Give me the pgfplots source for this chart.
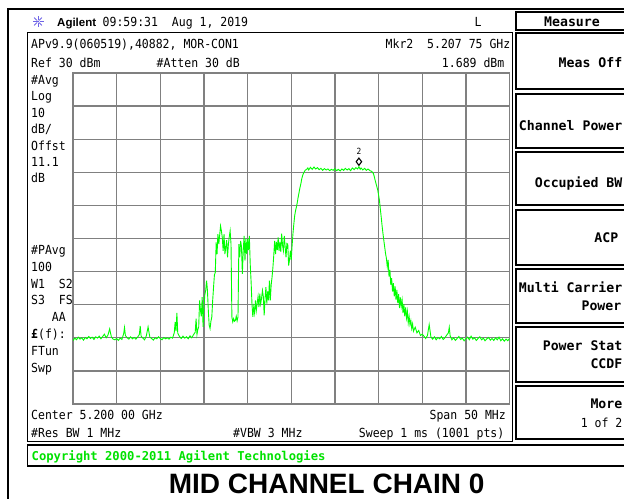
\documentclass[border=0pt]{standalone}
\usepackage{pgfplots}
\pgfplotsset{compat=1.18}
\usepackage{pgfplotstable}
\usepackage{fontspec}
\newfontfamily\scr[FakeStretch=0.92]{DejaVu Sans Mono}
\newfontfamily\key{DejaVu Sans Mono}
\newfontfamily\arial{Liberation Sans}
\definecolor{trace}{RGB}{0,255,0}
\definecolor{copyg}{RGB}{0,225,0}
\definecolor{gridg}{RGB}{128,128,128}
\definecolor{logo}{RGB}{110,100,230}
\newcommand{\scf}{\scr\fontsize{12.5bp}{14bp}\selectfont}
\newcommand{\kf}{\key\bfseries\fontsize{13.2bp}{15bp}\selectfont}

\pgfplotstableread{
f p
5175.0 -50.9
5175.2 -50.1
5175.4 -50.6
5175.6 -49.8
5175.8 -50.4
5176.0 -50.0
5176.2 -50.7
5176.4 -49.9
5176.6 -50.3
5176.8 -49.6
5177.0 -50.2
5177.2 -49.8
5177.4 -50.5
5177.6 -49.7
5177.8 -50.1
5178.0 -49.5
5178.2 -50.3
5178.4 -49.6
5178.6 -48.9
5178.8 -50.0
5179.0 -49.2
5179.2 -47.3
5179.4 -49.8
5179.6 -50.4
5179.8 -50.6
5180.0 -50.2
5180.2 -50.8
5180.4 -50.1
5180.6 -50.5
5180.8 -48.8
5180.9 -46.9
5181.0 -49.3
5181.2 -50.0
5181.4 -50.4
5181.6 -49.7
5181.8 -50.3
5182.0 -49.9
5182.2 -50.4
5182.4 -49.8
5182.6 -49.0
5182.7 -46.4
5182.8 -49.5
5183.0 -50.1
5183.2 -50.6
5183.4 -49.4
5183.6 -46.7
5183.8 -49.8
5184.0 -50.2
5184.2 -50.7
5184.4 -50.0
5184.6 -50.3
5184.8 -49.7
5185.0 -50.2
5185.2 -50.6
5185.4 -49.9
5185.6 -50.3
5185.8 -50.0
5186.0 -50.4
5186.2 -49.8
5186.4 -50.1
5186.6 -48.5
5186.7 -45.2
5186.8 -48.0
5186.9 -42.5
5187.0 -48.6
5187.2 -49.6
5187.4 -50.2
5187.6 -49.5
5187.8 -50.1
5188.0 -49.7
5188.2 -50.3
5188.4 -49.4
5188.6 -50.0
5188.8 -49.1
5189.0 -48.3
5189.1 -44.2
5189.2 -49.0
5189.3 -47.5
5189.4 -46.7
5189.5 -38.7
5189.6 -41.7
5189.7 -43.5
5189.8 -37.7
5189.9 -46.7
5190.0 -40.7
5190.1 -37.0
5190.2 -35.7
5190.3 -32.7
5190.4 -35.7
5190.5 -41.7
5190.6 -46.2
5190.7 -47.2
5190.8 -45.0
5190.9 -43.7
5191.0 -38.7
5191.1 -34.7
5191.2 -31.0
5191.3 -30.2
5191.4 -21.2
5191.5 -24.7
5191.6 -18.7
5191.7 -21.7
5191.8 -19.0
5191.9 -16.2
5192.0 -17.7
5192.1 -19.7
5192.2 -23.7
5192.3 -18.7
5192.4 -24.7
5192.5 -22.7
5192.6 -20.5
5192.7 -25.7
5192.8 -21.7
5192.9 -19.5
5193.0 -17.7
5193.1 -21.7
5193.2 -43.7
5193.3 -45.2
5193.4 -44.2
5193.5 -45.0
5193.6 -44.7
5193.7 -43.5
5193.8 -44.9
5193.9 -43.7
5194.0 -21.7
5194.1 -25.7
5194.2 -20.7
5194.3 -22.5
5194.4 -30.7
5194.5 -23.7
5194.6 -19.2
5194.7 -26.7
5194.8 -20.2
5194.9 -24.7
5195.0 -20.2
5195.1 -23.5
5195.2 -19.2
5195.3 -27.7
5195.4 -33.0
5195.5 -39.7
5195.6 -43.7
5195.7 -40.7
5195.8 -42.5
5195.9 -38.7
5196.0 -41.7
5196.1 -39.5
5196.2 -37.5
5196.3 -40.7
5196.4 -36.7
5196.5 -39.7
5196.6 -38.0
5196.7 -35.7
5196.8 -37.5
5196.9 -43.2
5197.0 -38.0
5197.1 -34.7
5197.2 -39.7
5197.3 -36.0
5197.4 -38.7
5197.5 -32.7
5197.6 -38.7
5197.7 -34.0
5197.8 -31.7
5197.9 -28.7
5198.0 -25.0
5198.1 -20.7
5198.2 -24.7
5198.3 -21.0
5198.4 -23.5
5198.5 -19.7
5198.6 -23.7
5198.7 -21.0
5198.8 -24.0
5198.9 -18.5
5199.0 -22.0
5199.1 -23.7
5199.2 -19.2
5199.3 -22.5
5199.4 -25.7
5199.5 -21.5
5199.6 -21.7
5199.7 -28.2
5199.8 -26.5
5199.9 -23.7
5200.0 -26.5
5200.1 -22.0
5200.2 -18.4
5200.3 -15.5
5200.4 -13.0
5200.5 -11.5
5200.6 -10.4
5200.7 -9.0
5200.8 -7.4
5200.9 -6.0
5201.0 -4.6
5201.1 -3.5
5201.2 -2.0
5201.3 -1.0
5201.4 -0.3
5201.5 0.2
5201.6 0.6
5201.7 0.8
5201.8 1.0
5201.9 1.3
5202.0 0.7
5202.2 1.5
5202.4 0.9
5202.6 1.6
5202.8 1.0
5203.0 1.4
5203.2 0.8
5203.4 1.2
5203.6 0.6
5203.8 1.1
5204.0 0.7
5204.2 1.0
5204.4 0.5
5204.6 0.9
5204.8 0.6
5205.0 1.1
5205.2 0.5
5205.4 0.9
5205.6 0.4
5205.8 1.0
5206.0 0.6
5206.2 1.2
5206.4 0.7
5206.6 1.1
5206.8 0.5
5207.0 1.3
5207.2 0.8
5207.4 1.4
5207.6 1.0
5207.75 1.689
5207.9 0.9
5208.0 1.3
5208.2 0.7
5208.4 1.2
5208.6 0.6
5208.8 1.0
5209.0 0.5
5209.2 0.3
5209.4 -0.3
5209.5 -1.2
5209.6 -2.3
5209.7 -3.3
5209.8 -4.3
5209.9 -5.3
5210.0 -6.8
5210.1 -8.4
5210.2 -11.0
5210.3 -13.4
5210.4 -16.0
5210.5 -18.4
5210.6 -20.5
5210.7 -22.5
5210.8 -24.5
5210.9 -26.0
5211.0 -28.5
5211.1 -26.5
5211.2 -31.5
5211.3 -29.5
5211.4 -34.0
5211.5 -32.0
5211.6 -36.0
5211.7 -33.5
5211.8 -37.5
5211.9 -34.5
5212.0 -38.5
5212.1 -35.5
5212.2 -39.5
5212.3 -36.8
5212.4 -41.0
5212.5 -37.8
5212.6 -40.5
5212.7 -38.6
5212.8 -42.5
5212.9 -39.8
5213.0 -43.5
5213.1 -40.8
5213.2 -44.0
5213.3 -42.0
5213.4 -45.5
5213.5 -43.5
5213.6 -46.0
5213.7 -44.8
5213.8 -47.2
5213.9 -45.8
5214.0 -48.0
5214.2 -46.8
5214.4 -48.5
5214.6 -47.8
5214.8 -49.3
5215.0 -48.9
5215.2 -49.5
5215.4 -50.2
5215.6 -49.3
5215.8 -46.0
5216.0 -49.8
5216.2 -50.4
5216.4 -49.7
5216.6 -50.6
5216.8 -49.9
5217.0 -50.3
5217.2 -49.6
5217.4 -50.5
5217.6 -50.0
5217.8 -49.2
5218.0 -48.5
5218.1 -46.8
5218.2 -49.4
5218.4 -50.6
5218.6 -50.0
5218.8 -50.8
5219.0 -50.2
5219.2 -49.6
5219.4 -50.5
5219.6 -50.1
5219.8 -50.9
5220.0 -50.3
5220.2 -49.8
5220.4 -50.6
5220.6 -49.5
5220.8 -50.4
5221.0 -50.0
5221.2 -50.8
5221.4 -50.2
5221.6 -49.7
5221.8 -50.6
5222.0 -50.1
5222.2 -50.9
5222.4 -50.3
5222.6 -49.9
5222.8 -50.7
5223.0 -50.2
5223.2 -50.8
5223.4 -50.0
5223.6 -50.6
5223.8 -49.8
5224.0 -50.9
5224.2 -50.3
5224.4 -51.0
5224.6 -50.4
5224.8 -50.9
5225.0 -50.2
}\trace

\begin{document}
\begin{tikzpicture}
\useasboundingbox (0,0) rectangle (624bp,-499bp);
\begin{axis}[
  at={(73bp,-404bp)}, anchor=south west,
  width=436.5bp, height=331bp, scale only axis,
  xmin=5175, xmax=5225, ymin=-70, ymax=30,
  xtick={5175,5180,...,5225}, ytick={-70,-60,...,30},
  xticklabels={}, yticklabels={},
  tick style={draw=none},
  grid=major,
  major grid style={draw=gridg, line width=1.3bp},
  axis line style={draw=gridg, line width=1.5bp},
]
\addplot[trace, line width=0.9bp, mark=none] table[x=f, y=p] {\trace};
\addplot[only marks, mark=diamond, mark size=3.6bp, black,
  mark options={line width=1.1bp, fill=white, yshift=5bp}] coordinates {(5207.75,1.689)};
\node[font=\scr\fontsize{8.5bp}{9bp}\selectfont, inner sep=0pt] at (axis cs:5207.75,1.689) [yshift=15.5bp] {2};
\end{axis}

\begin{scope}[x=1bp, y=-1bp]
% outer frame
\draw[black, line width=2bp] (8.2,499) -- (8.2,9.2) -- (630,9.2);
% logo
\foreach \a in {0,45,...,315} {
  \draw[logo, line width=0.8bp] (38,21.5) ++(\a:1.5) -- ++(\a:4);
}
\fill[logo] (38,21.5) circle (1.1);
\node[anchor=base west, inner sep=0pt, font=\arial\bfseries\fontsize{11.5bp}{13bp}\selectfont] at (57,26) {Agilent};
\node[anchor=base west, inner sep=0pt, font=\scf] at (102.5,26) {09:59:31\ \ Aug 1, 2019};
\node[anchor=base west, inner sep=0pt, font=\scf] at (474.5,26) {L};
% main box
\draw[black, line width=1.5bp] (27.3,32.7) rectangle (512.7,441.5);
\node[anchor=base west, inner sep=0pt, font=\scf] at (31,48) {APv9.9(060519),40882, MOR-CON1};
\node[anchor=base east, inner sep=0pt, font=\scf] at (510.5,48) {Mkr2\ \ 5.207 75 GHz};
\node[anchor=base west, inner sep=0pt, font=\scf] at (31,67) {Ref 30 dBm};
\node[anchor=base west, inner sep=0pt, font=\scf] at (156.5,67) {\#Atten 30 dB};
\node[anchor=base east, inner sep=0pt, font=\scf] at (504.5,67) {1.689 dBm};
% left column
\foreach \t/\y in {{\#Avg}/84, {Log}/100.5, {10}/117, {dB/}/133.5, {Offst}/150, {11.1}/166, {dB}/182,
   {\#PAvg}/254.5, {100}/271.2, {W1\ \ S2}/288, {S3\ \ FS}/304.8, {\ \ \ AA}/321.6, {\textbf{£}(f):}/338.4, {FTun}/355.2, {Swp}/372} {
  \node[anchor=base west, inner sep=0pt, font=\scf] at (31,\y) {\t};
}
% bottom annotations
\node[anchor=base west, inner sep=0pt, font=\scf] at (31,419) {Center 5.200 00 GHz};
\node[anchor=base east, inner sep=0pt, font=\scf] at (506,419) {Span 50 MHz};
\node[anchor=base west, inner sep=0pt, font=\scf] at (31,437) {\#Res BW 1 MHz};
\node[anchor=base west, inner sep=0pt, font=\scf] at (233,437) {\#VBW 3 MHz};
\node[anchor=base east, inner sep=0pt, font=\scf] at (504.5,437) {Sweep 1 ms (1001 pts)};
% copyright bar
\draw[black, line width=1.5bp] (630,445) -- (27.3,445) -- (27.3,466) -- (630,466);
\node[anchor=base west, inner sep=0pt, text=copyg, font=\key\bfseries\fontsize{12.2bp}{14bp}\selectfont] at (31.5,460) {Copyright 2000-2011 Agilent Technologies};
% title
\node[anchor=base, inner sep=0pt, font=\arial\bfseries\fontsize{28bp}{30bp}\selectfont] at (326.7,493.5) {MID CHANNEL CHAIN 0};
% softkeys
\foreach \ya/\yb in {11.7/30, 33/89, 94/148, 152/205, 210/265, 269/323, 327/382, 386/439} {
  \draw[black, line width=1.6bp] (630,\ya) -- (516,\ya) -- (516,\yb) -- (630,\yb);
}
\node[anchor=base, inner sep=0pt, font=\kf] at (572,26) {Measure};
\node[anchor=base east, inner sep=0pt, font=\kf] at (622.5,67) {Meas Off};
\node[anchor=base east, inner sep=0pt, font=\kf] at (622.5,130) {Channel Power};
\node[anchor=base east, inner sep=0pt, font=\kf] at (622.5,187) {Occupied BW};
\node[anchor=base east, inner sep=0pt, font=\kf] at (618.5,242) {ACP};
\node[anchor=base east, inner sep=0pt, font=\kf] at (622.5,292) {Multi Carrier};
\node[anchor=base east, inner sep=0pt, font=\kf] at (621.5,310) {Power};
\node[anchor=base east, inner sep=0pt, font=\kf] at (622.5,350) {Power Stat};
\node[anchor=base east, inner sep=0pt, font=\kf] at (622.5,368) {CCDF};
\node[anchor=base east, inner sep=0pt, font=\kf] at (622.5,408) {More};
\node[anchor=base east, inner sep=0pt, font=\scf] at (622.5,427) {1 of 2};
\end{scope}
\end{tikzpicture}
\end{document}
